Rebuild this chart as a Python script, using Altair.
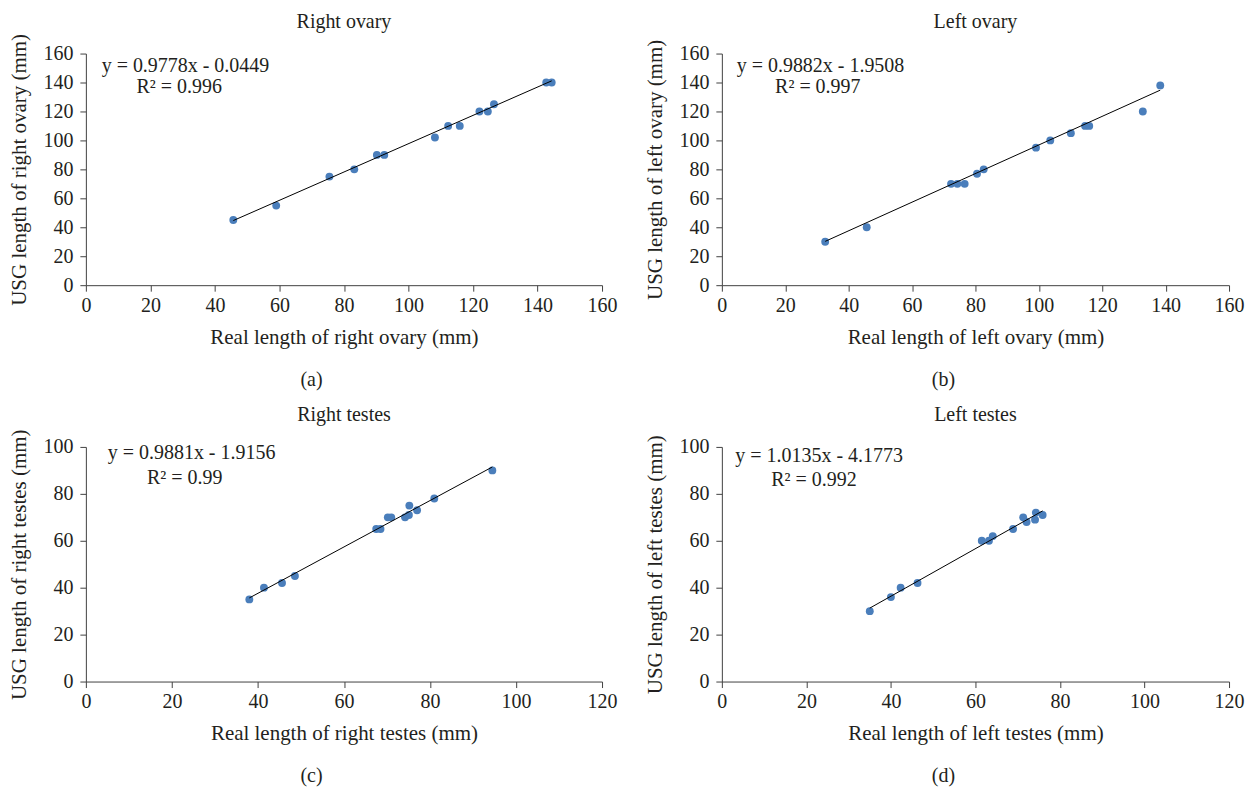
import altair as alt
import pandas as pd

FONT = "Liberation Serif"
BLUE = "#4a7ebb"
INK = "#231f20"

# ---- data ----
ro_real = [45.7, 59.0, 75.5, 83.2, 90.2, 92.5, 108.2, 112.3, 115.9, 122.0, 124.6, 126.5, 142.7, 144.4]
ro_usg = [45, 55, 75, 80, 90, 90, 102, 110, 110, 120, 120, 125, 140, 140]

lo_real = [32.6, 45.7, 72.3, 74.3, 76.6, 80.5, 82.6, 99.1, 103.6, 110.1, 114.6, 115.9, 132.8, 138.3]
lo_usg = [30, 40, 70, 70, 70, 77, 80, 95, 100, 105, 110, 110, 120, 138]

rt_real = [38.0, 41.4, 45.6, 48.6, 67.5, 68.5, 70.2, 71.0, 74.2, 75.1, 75.2, 77.0, 81.0, 94.5]
rt_usg = [35, 40, 42, 45, 65, 65, 70, 70, 70, 71, 75, 73, 78, 90]

lt_real = [35.0, 40.0, 42.3, 46.3, 61.5, 63.2, 64.1, 68.9, 71.3, 72.1, 74.1, 74.3, 75.9]
lt_usg = [30, 36, 40, 42, 60, 60, 62, 65, 70, 68, 69, 72, 71]

slopes = [0.9778, 0.9882, 0.9881, 1.0135]
intercepts = [-0.0449, -1.9508, -1.9156, -4.1773]
eq_texts = ["y = 0.9778x - 0.0449", "y = 0.9882x - 1.9508",
            "y = 0.9881x - 1.9156", "y = 1.0135x - 4.1773"]
r2_texts = ["R\u00b2 = 0.996", "R\u00b2 = 0.997", "R\u00b2 = 0.99", "R\u00b2 = 0.992"]

titles = ["Right ovary", "Left ovary", "Right testes", "Left testes"]
x_titles = ["Real length of right ovary (mm)", "Real length of left ovary (mm)",
            "Real length of right testes (mm)", "Real length of left testes (mm)"]
y_titles = ["USG length of right ovary (mm)", "USG length of left ovary (mm)",
            "USG length of right testes (mm)", "USG length of left testes (mm)"]
captions = ["(a)", "(b)", "(c)", "(d)"]

x_max = [160, 160, 120, 120]
y_max = [160, 160, 100, 100]

reals = [ro_real, lo_real, rt_real, lt_real]
usgs = [ro_usg, lo_usg, rt_usg, lt_usg]

# ---- layout / annotation placement ----
widths = [517, 508, 517, 508]
heights = [232, 232, 235, 235]
eq_pos = [(4.9, 151.5), (4.7, 151.5), (5.1, 97.4), (3.2, 96.2)]
r2_pos = [(15.7, 137.0), (16.8, 137.0), (14.2, 86.8), (11.7, 86.1)]
cap_dx = [226, 222, 226, 222]
title_dy = -32


def panel(i):
    df = pd.DataFrame({"x": reals[i], "y": usgs[i]})
    xs = [min(reals[i]), max(reals[i])]
    line_df = pd.DataFrame({"x": xs, "y": [slopes[i] * v + intercepts[i] for v in xs]})
    ann_df = pd.DataFrame({
        "x": [eq_pos[i][0], r2_pos[i][0]],
        "y": [eq_pos[i][1], r2_pos[i][1]],
        "t": [eq_texts[i], r2_texts[i]],
    })
    xsc = alt.Scale(domain=[0, x_max[i]], nice=False)
    ysc = alt.Scale(domain=[0, y_max[i]], nice=False)
    xax = alt.Axis(values=list(range(0, x_max[i] + 1, 20)), title=x_titles[i],
                   titlePadding=11, labelFlush=False, labelOverlap=False)
    yax = alt.Axis(values=list(range(0, y_max[i] + 1, 20)), title=y_titles[i],
                   titlePadding=13, labelPadding=7,
                   labelFlush=False, labelOverlap=False)
    X = alt.X("x:Q", scale=xsc, axis=xax)
    Y = alt.Y("y:Q", scale=ysc, axis=yax)

    pts = alt.Chart(df).mark_circle(size=62, color=BLUE, opacity=1).encode(x=X, y=Y)
    ln = alt.Chart(line_df).mark_line(color="black", strokeWidth=1).encode(x=X, y=Y)
    ann = alt.Chart(ann_df).mark_text(
        align="left", baseline="middle", font=FONT, fontSize=20, color=INK
    ).encode(x=X, y=Y, text="t:N")
    cap = alt.Chart(pd.DataFrame({"t": [captions[i]]})).mark_text(
        align="center", baseline="middle", font=FONT, fontSize=20, color=INK
    ).encode(x=alt.value(cap_dx[i]), y=alt.value(heights[i] + 95), text="t:N")
    ttl = alt.Chart(pd.DataFrame({"t": [titles[i]]})).mark_text(
        align="center", baseline="middle", font=FONT, fontSize=20, color=INK
    ).encode(x=alt.value(widths[i] / 2), y=alt.value(title_dy), text="t:N")

    return alt.layer(pts, ln, ann, cap, ttl).properties(
        width=widths[i], height=heights[i],
    )


chart = alt.concat(
    *[panel(i) for i in range(4)],
    columns=2,
    spacing={"row": 162, "column": 120},
    bounds="flush",
    align="each",
).properties(
    padding={"left": 0, "top": 3, "right": 5, "bottom": 0}
).configure_axis(
    grid=False,
    domainColor="#404040", tickColor="#404040",
    labelColor=INK, titleColor=INK,
    labelFont=FONT, titleFont=FONT,
    labelFontSize=20, titleFontSize=21, titleFontWeight="normal",
    tickSize=6, labelPadding=4, labelOverlap=False, labelFlush=False,
).configure_view(stroke=None)

chart.save("out.html", embed_options={"renderer": "svg", "actions": False})
